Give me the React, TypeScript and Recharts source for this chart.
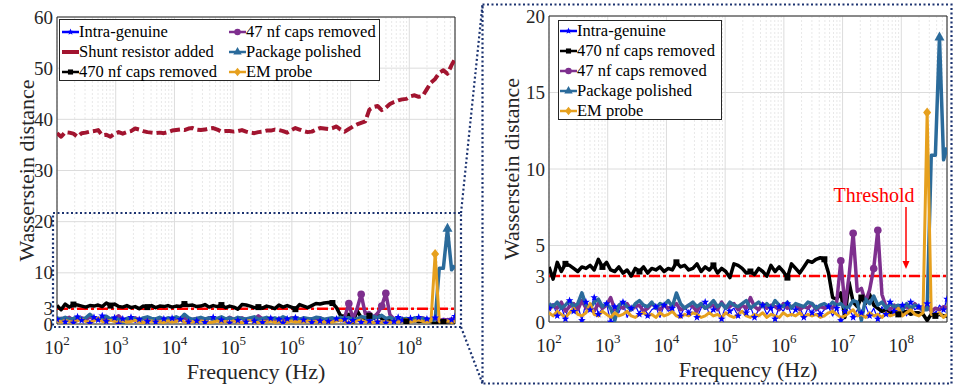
import React from 'react';
import { LineChart, Line, XAxis, YAxis, CartesianGrid, ReferenceLine, ReferenceArea } from 'recharts';

const FONT = "'Liberation Serif', 'DejaVu Serif', 'Noto Serif', Tinos, Times, serif";
const INK = '#262626';

// log10 of the frequency (Hz) of each sample
const freqExp = [
  2.00, 2.07, 2.14, 2.21, 2.28, 2.35, 2.42, 2.49, 2.56, 2.63,
  2.70, 2.77, 2.84, 2.91, 2.98, 3.05, 3.12, 3.19, 3.26, 3.33,
  3.40, 3.47, 3.54, 3.61, 3.68, 3.75, 3.82, 3.89, 3.96, 4.03,
  4.10, 4.17, 4.24, 4.31, 4.38, 4.45, 4.52, 4.59, 4.66, 4.73,
  4.80, 4.87, 4.94, 5.01, 5.08, 5.15, 5.22, 5.29, 5.36, 5.43,
  5.50, 5.57, 5.64, 5.71, 5.78, 5.85, 5.92, 5.99, 6.06, 6.13,
  6.20, 6.27, 6.34, 6.41, 6.48, 6.55, 6.62, 6.69, 6.76, 6.83,
  6.90, 6.97, 7.04, 7.11, 7.18, 7.25, 7.32, 7.39, 7.46, 7.53,
  7.60, 7.67, 7.74, 7.81, 7.88, 7.95, 8.02, 8.09, 8.16, 8.23,
  8.30, 8.37, 8.44, 8.51, 8.58, 8.65, 8.72, 8.778,
];

const intraGenuine = [
  0.9, 1.2, 0.4, 1.0, 0.2, 1.4, 0.7, 1.1, 0.1, 1.3,
  0.8, 1.6, 0.5, 0.9, 1.2, 0.0, 1.0, 0.6, 1.3, 0.3,
  0.9, 1.1, 0.5, 1.2, 0.4, 0.8, 1.0, 0.3, 1.1, 0.7,
  0.9, 1.2, 0.4, 1.0, 0.6, 1.1, 0.3, 0.9, 1.3, 0.5,
  0.8, 1.0, 0.2, 1.1, 0.7, 0.9, 0.4, 1.2, 0.6, 1.0,
  0.3, 0.8, 1.1, 0.5, 0.9, 0.2, 1.0, 0.7, 1.2, 0.4,
  0.8, 1.0, 0.3, 0.9, 0.6, 1.1, 0.5, 0.8, 1.0, 0.4,
  0.9, 0.1, 0.7, 1.0, 0.3, 0.8, 0.6, 1.1, 0.4, 0.9,
  0.2, 1.0, 0.5, 1.3, 0.7, 0.9, 1.1, 0.4, 1.3, 0.8,
  1.0, 0.6, 1.2, 0.9, 0.5, 1.1, 0.8, 1.5,
];

const shuntResistor = [
  37.3, 36.6, 37.5, 37.4, 37.2, 36.6, 37.3, 37.4, 37.6, 37.7,
  37.9, 36.9, 37.0, 36.6, 37.2, 37.5, 37.2, 37.5, 37.7, 38.2,
  38.0, 37.7, 37.5, 37.4, 37.3, 37.4, 37.3, 37.5, 37.8, 37.9,
  38.0, 37.9, 38.2, 38.3, 38.0, 37.9, 38.0, 38.2, 38.3, 38.0,
  37.6, 37.7, 37.7, 37.6, 37.7, 37.9, 37.6, 37.4, 37.3, 37.5,
  37.6, 37.8, 37.8, 38.0, 37.9, 37.7, 37.4, 37.9, 38.3, 38.0,
  37.7, 37.5, 37.6, 38.0, 38.3, 38.2, 38.1, 38.3, 38.6, 38.0,
  37.6, 38.1, 38.6, 39.0, 39.3, 39.6, 41.9, 42.4, 42.6, 41.8,
  42.3, 43.0, 43.4, 43.7, 43.9, 44.0, 44.5, 44.7, 44.4, 44.6,
  45.9, 47.2, 47.9, 49.1, 49.6, 48.9, 50.6, 51.8,
];

const caps470 = [
  3.6, 2.8, 3.9, 3.3, 3.8, 3.7, 3.5, 3.3, 3.6, 3.5,
  3.7, 3.4, 4.1, 3.6, 3.9, 3.4, 3.3, 3.6, 3.2, 3.4,
  3.0, 3.5, 3.3, 3.6, 3.2, 3.5, 3.4, 3.6, 3.3, 3.5,
  3.4, 3.9, 3.6, 3.7, 3.4, 3.5, 3.8, 3.3, 3.6, 3.4,
  3.7, 3.2, 3.5, 3.3, 2.9, 3.8, 3.7, 3.5, 3.2, 3.3,
  3.1, 3.5, 3.3, 3.0, 3.7, 3.3, 3.6, 3.3, 2.9, 3.8,
  3.5, 3.2, 3.6, 4.0, 3.9, 4.1, 4.2, 4.1, 3.2, 1.6,
  1.5, 1.9, 0.3, 2.6, 1.3, 1.0, 1.6, 1.2, 1.8, 1.1,
  0.9, 0.7, 0.8, 0.6, 0.7, 0.5, 0.6, 0.7, 0.5, 0.6,
  0.6, 0.5, 0.1, 0.5, 0.4, 0.5, 0.4, 0.4,
];

const caps47 = [
  0.8, 1.1, 0.9, 1.3, 0.7, 1.0, 1.2, 0.8, 1.4, 0.9,
  1.0, 0.7, 1.2, 0.9, 1.1, 1.6, 0.8, 1.0, 0.9, 1.2,
  0.8, 1.0, 1.1, 0.7, 0.9, 1.2, 1.0, 0.8, 1.1, 0.9,
  1.0, 1.2, 0.8, 0.9, 1.1, 1.0, 0.7, 1.2, 0.9, 1.0,
  1.1, 0.8, 1.3, 0.9, 1.0, 1.2, 0.8, 1.1, 0.9, 1.6,
  1.0, 0.8, 1.2, 0.9, 1.1, 1.0, 0.8, 1.2, 0.9, 1.0,
  1.1, 0.8, 1.0, 0.9, 1.2, 0.8, 1.0, 0.9, 1.1, 0.9,
  1.3, 4.0, 1.0, 3.0, 5.8, 2.0, 2.2, 1.3, 2.1, 3.5,
  6.0, 1.8, 1.0, 0.8, 1.1, 0.7, 0.9, 1.0, 0.8, 1.2,
  0.9, 0.8, 1.0, 0.7, 0.9, 0.8, 1.0, 0.9,
];

const packagePolished = [
  1.2, 1.0, 1.3, 0.9, 1.1, 1.4, 1.0, 1.2, 1.9, 1.1,
  0.9, 1.3, 1.5, 1.0, 1.2, 0.9, 0.1, 1.1, 1.3, 1.0,
  0.8, 1.2, 1.4, 1.1, 1.0, 1.3, 0.9, 1.2, 1.1, 1.4,
  1.0, 1.9, 1.2, 0.9, 1.1, 1.3, 1.0, 1.2, 0.9, 1.1,
  1.4, 1.0, 1.2, 0.9, 1.3, 1.1, 1.0, 1.2, 1.4, 0.9,
  1.1, 1.3, 1.0, 1.2, 0.9, 1.4, 1.1, 1.0, 1.3, 0.9,
  1.2, 1.1, 1.0, 1.3, 1.2, 0.9, 1.1, 1.2, 1.0, 1.3,
  1.1, 1.2, 0.9, 1.0, 1.4, 1.3, 0.1, 1.5, 1.2, 1.7,
  1.1, 1.3, 0.9, 1.2, 1.0, 1.1, 0.8, 1.2, 0.9, 1.1,
  1.0, 0.8, 0.8, 10.9, 10.9, 18.6, 10.6, 11.4,
];

const emProbe = [
  0.6, 0.4, 0.7, 0.5, 0.3, 0.6, 0.9, 0.5, 0.4, 0.6,
  1.2, 0.5, 0.4, 0.7, 0.5, 0.3, 0.6, 0.4, 0.5, 0.7,
  0.4, 0.3, 0.5, 0.6, 0.4, 0.5, 0.3, 0.6, 0.4, 0.5,
  0.7, 0.4, 0.3, 0.5, 0.4, 0.6, 0.5, 0.3, 0.4, 0.6,
  0.4, 0.5, 0.3, 0.6, 0.4, 0.3, 0.5, 0.7, 0.4, 0.3,
  0.5, 0.4, 0.6, 0.3, 0.5, 0.4, 0.3, 0.6, 0.4, 0.5,
  0.4, 0.6, 0.3, 0.5, 0.4, 0.5, 0.3, 0.4, 0.6, 0.7,
  0.5, 0.3, 0.4, 0.6, 0.8, 0.4, 0.5, 0.3, 0.6, 0.4,
  0.5, 0.3, 0.6, 0.4, 0.5, 0.9, 0.4, 0.6, 0.8, 0.5,
  0.4, 0.6, 13.7, 0.5, 0.4, 0.6, 0.3, 0.5,
];

const decadeExps = [2, 3, 4, 5, 6, 7, 8];
const minorSteps = [2, 3, 4, 5, 6, 7, 8, 9];
const xMin = 100;
const xMax = 6e8;
const leftYTicks = [0, 3, 10, 20, 30, 40, 50, 60];
const rightYTicks = [0, 3, 5, 10, 15, 20];
const thresholdValue = 3;

const rows = freqExp.map((e, i) => ({
  f: Math.pow(10, e),
  ig: intraGenuine[i],
  shunt: shuntResistor[i],
  c470: caps470[i],
  c47: caps47[i],
  pkg: packagePolished[i],
  em: emProbe[i],
}));

const majorTicks = decadeExps.map((n) => Math.pow(10, n));
const minorTicks = decadeExps
  .flatMap((n) => minorSteps.map((k) => k * Math.pow(10, n)))
  .filter((v) => v < xMax);

type Marker = 'star' | 'none' | 'square' | 'circle' | 'triangle' | 'diamond';
interface SeriesDef {
  key: string;
  name: string;
  color: string;
  width: number;
  dash?: string;
  marker: Marker;
  showMarker: (v: number, i: number) => boolean;
}

const series: Record<string, SeriesDef> = {
  ig: { key: 'ig', name: 'Intra-genuine', color: '#0000ff', width: 1.2, marker: 'star', showMarker: (v, i) => i % 2 === 0 || v > 1.2 || v < 0.3 },
  shunt: { key: 'shunt', name: 'Shunt resistor added', color: '#a2142f', width: 4, dash: '10 4', marker: 'none', showMarker: () => false },
  c470: { key: 'c470', name: '470 nf caps removed', color: '#000000', width: 3.5, marker: 'square', showMarker: (v, i) => i % 9 === 4 },
  c47: { key: 'c47', name: '47 nf caps removed', color: '#7e2f8e', width: 3.5, marker: 'circle', showMarker: (v) => v > 3 },
  pkg: { key: 'pkg', name: 'Package polished', color: '#2b6b9b', width: 3.5, marker: 'triangle', showMarker: (v) => v > 15 },
  em: { key: 'em', name: 'EM probe', color: '#e6a01e', width: 3, marker: 'diamond', showMarker: (v) => v > 5 },
};

function markerShape(kind: Marker, cx: number, cy: number, color: string, s = 1) {
  if (kind === 'star') {
    const pts: string[] = [];
    for (let k = 0; k < 10; k++) {
      const r = (k % 2 === 0 ? 4 : 1.7) * s;
      const a = -Math.PI / 2 + (k * Math.PI) / 5;
      pts.push(`${cx + r * Math.cos(a)},${cy + r * Math.sin(a)}`);
    }
    return <polygon points={pts.join(' ')} fill={color} />;
  }
  if (kind === 'square') return <rect x={cx - 3 * s} y={cy - 3 * s} width={6 * s} height={6 * s} fill={color} />;
  if (kind === 'circle') return <circle cx={cx} cy={cy} r={3.8 * s} fill={color} />;
  if (kind === 'triangle')
    return <polygon points={`${cx},${cy - 6 * s} ${cx - 5 * s},${cy + 3 * s} ${cx + 5 * s},${cy + 3 * s}`} fill={color} />;
  if (kind === 'diamond')
    return <polygon points={`${cx},${cy - 5 * s} ${cx - 4 * s},${cy} ${cx},${cy + 5 * s} ${cx + 4 * s},${cy}`} fill={color} />;
  return null;
}

const makeDot = (def: SeriesDef) => (props: any) => {
  const { cx, cy, index, value } = props;
  if (cx == null || cy == null || !def.showMarker(value, index)) return <g key={`${def.key}-${index}`} />;
  return <g key={`${def.key}-${index}`}>{markerShape(def.marker, cx, cy, def.color)}</g>;
};

const XTick = ({ x, y, payload }: any) => {
  const n = Math.round(Math.log10(payload.value));
  return (
    <text x={x} y={y + 30} textAnchor="middle" fontFamily={FONT} fontSize={19} fill={INK}>
      <tspan>10</tspan>
      <tspan dy={-9} fontSize={13}>{n}</tspan>
    </text>
  );
};

const YTick = ({ x, y, payload }: any) => (
  <text x={x - 4} y={y} dy={6.5} textAnchor="end" fontFamily={FONT} fontSize={19} fill={INK}>
    {payload.value}
  </text>
);

const XTitle = ({ viewBox }: any) => (
  <text x={viewBox.x + viewBox.width / 2} y={viewBox.y + 55} textAnchor="middle" fontFamily={FONT} fontSize={22} fill={INK}>
    Frequency (Hz)
  </text>
);

const YTitle = ({ viewBox, base }: any) => {
  const cy = viewBox.y + viewBox.height / 2;
  return (
    <text x={base} y={cy} transform={`rotate(-90, ${base}, ${cy})`} textAnchor="middle" fontFamily={FONT} fontSize={22} fill={INK}>
      Wasserstein distance
    </text>
  );
};

function Panel(props: {
  width: number;
  yMax: number;
  yTicks: number[];
  yAxisWidth: number;
  margin: { top: number; right: number; bottom: number; left: number };
  titleBase: number;
  order: string[];
}) {
  const { width, yMax, yTicks, yAxisWidth, margin, titleBase, order } = props;
  return (
    <LineChart width={width} height={388} data={rows} margin={margin} style={{ fontFamily: FONT }}>
      <XAxis xAxisId="minor" dataKey="f" type="number" scale="log" domain={[xMin, xMax]} ticks={minorTicks} interval={0} hide allowDataOverflow />
      <CartesianGrid xAxisId="minor" horizontal={false} stroke="#e8e8e8" strokeDasharray="2 2" />
      <CartesianGrid stroke="#dcdcdc" />
      <XAxis
        dataKey="f"
        type="number"
        scale="log"
        domain={[xMin, xMax]}
        ticks={majorTicks}
        interval={0}
        allowDataOverflow
        tick={<XTick />}
        tickLine={false}
        axisLine={false}
        tickSize={0}
        tickMargin={0}
        height={40}
        label={<XTitle />}
      />
      <YAxis
        type="number"
        domain={[0, yMax]}
        ticks={yTicks}
        interval={0}
        allowDataOverflow
        tick={<YTick />}
        tickLine={false}
        axisLine={false}
        tickSize={0}
        tickMargin={0}
        width={yAxisWidth}
        label={<YTitle base={titleBase} />}
      />
      <ReferenceLine y={thresholdValue} stroke="#ff0000" strokeWidth={2.5} strokeDasharray="11 3 3 3" />
      {order.map((k) => {
        const def = series[k];
        return (
          <Line
            key={k}
            type="linear"
            dataKey={k}
            name={def.name}
            stroke={def.color}
            strokeWidth={def.width}
            strokeDasharray={def.dash}
            strokeLinejoin="round"
            dot={makeDot(def)}
            activeDot={false}
            isAnimationActive={false}
          />
        );
      })}
      <ReferenceArea x1={xMin} x2={xMax} y1={0} y2={yMax} fill="none" fillOpacity={0} stroke={INK} strokeWidth={1} />
    </LineChart>
  );
}

const LegendItem = ({ def }: { def: SeriesDef }) => (
  <div style={{ display: 'flex', alignItems: 'center', height: 20, whiteSpace: 'nowrap' }}>
    <svg width={17} height={12} style={{ flex: 'none' }}>
      <line x1={0} y1={6} x2={17} y2={6} stroke={def.color} strokeWidth={def.marker === 'none' ? 4 : 2.5} />
      {markerShape(def.marker, 8.5, 6, def.color, 0.85)}
    </svg>
    <span>{def.name}</span>
  </div>
);

const legendBox: React.CSSProperties = {
  position: 'absolute',
  boxSizing: 'border-box',
  border: `1px solid ${INK}`,
  background: '#fff',
  fontFamily: FONT,
  fontSize: 16.5,
  color: '#000',
  lineHeight: '20px',
};

const dotted = { stroke: '#1c3370', strokeWidth: 2.2, strokeDasharray: '2 2.5', fill: 'none' };

export default function App() {
  return (
    <div style={{ position: 'absolute', left: 0, top: 0, width: 953, height: 388, background: '#fff', overflow: 'hidden', fontFamily: FONT }}>
      <div style={{ position: 'absolute', left: 0, top: 0 }}>
        <Panel
          width={470}
          yMax={60}
          yTicks={leftYTicks}
          yAxisWidth={57}
          margin={{ top: 17, right: 15, bottom: 24, left: 0 }}
          titleBase={34}
          order={['shunt', 'ig', 'c470', 'c47', 'pkg', 'em']}
        />
      </div>
      <div style={{ position: 'absolute', left: 480, top: 0 }}>
        <Panel
          width={473}
          yMax={20}
          yTicks={rightYTicks}
          yAxisWidth={69}
          margin={{ top: 16, right: 6, bottom: 26, left: 0 }}
          titleBase={39}
          order={['ig', 'c470', 'c47', 'pkg', 'em']}
        />
      </div>

      <div style={{ ...legendBox, left: 59, top: 19, width: 321, height: 62 }}>
        <div style={{ position: 'absolute', left: 2, top: 2 }}>
          <LegendItem def={series.ig} />
          <LegendItem def={series.shunt} />
          <LegendItem def={series.c470} />
        </div>
        <div style={{ position: 'absolute', left: 169, top: 2 }}>
          <LegendItem def={series.c47} />
          <LegendItem def={series.pkg} />
          <LegendItem def={series.em} />
        </div>
      </div>
      <div style={{ ...legendBox, left: 558, top: 20, width: 164, height: 100 }}>
        <div style={{ position: 'absolute', left: 1, top: 0 }}>
          <LegendItem def={series.ig} />
          <LegendItem def={series.c470} />
          <LegendItem def={series.c47} />
          <LegendItem def={series.pkg} />
          <LegendItem def={series.em} />
        </div>
      </div>

      <svg width={953} height={388} style={{ position: 'absolute', left: 0, top: 0, pointerEvents: 'none' }}>
        <rect x={53} y={213} width={408} height={114} {...dotted} />
        <rect x={482.5} y={4.5} width={469} height={379} {...dotted} />
        <line x1={461} y1={213} x2={482.5} y2={4.5} {...dotted} />
        <line x1={461} y1={327} x2={482.5} y2={383.5} {...dotted} />
        <text x={874} y={202} textAnchor="middle" fontFamily={FONT} fontSize={20} fill="#ff0000">
          Threshold
        </text>
        <line x1={906} y1={207} x2={906} y2={262} stroke="#ff0000" strokeWidth={1.5} />
        <polygon points="902.5,261 909.5,261 906,269" fill="#ff0000" />
      </svg>
    </div>
  );
}
